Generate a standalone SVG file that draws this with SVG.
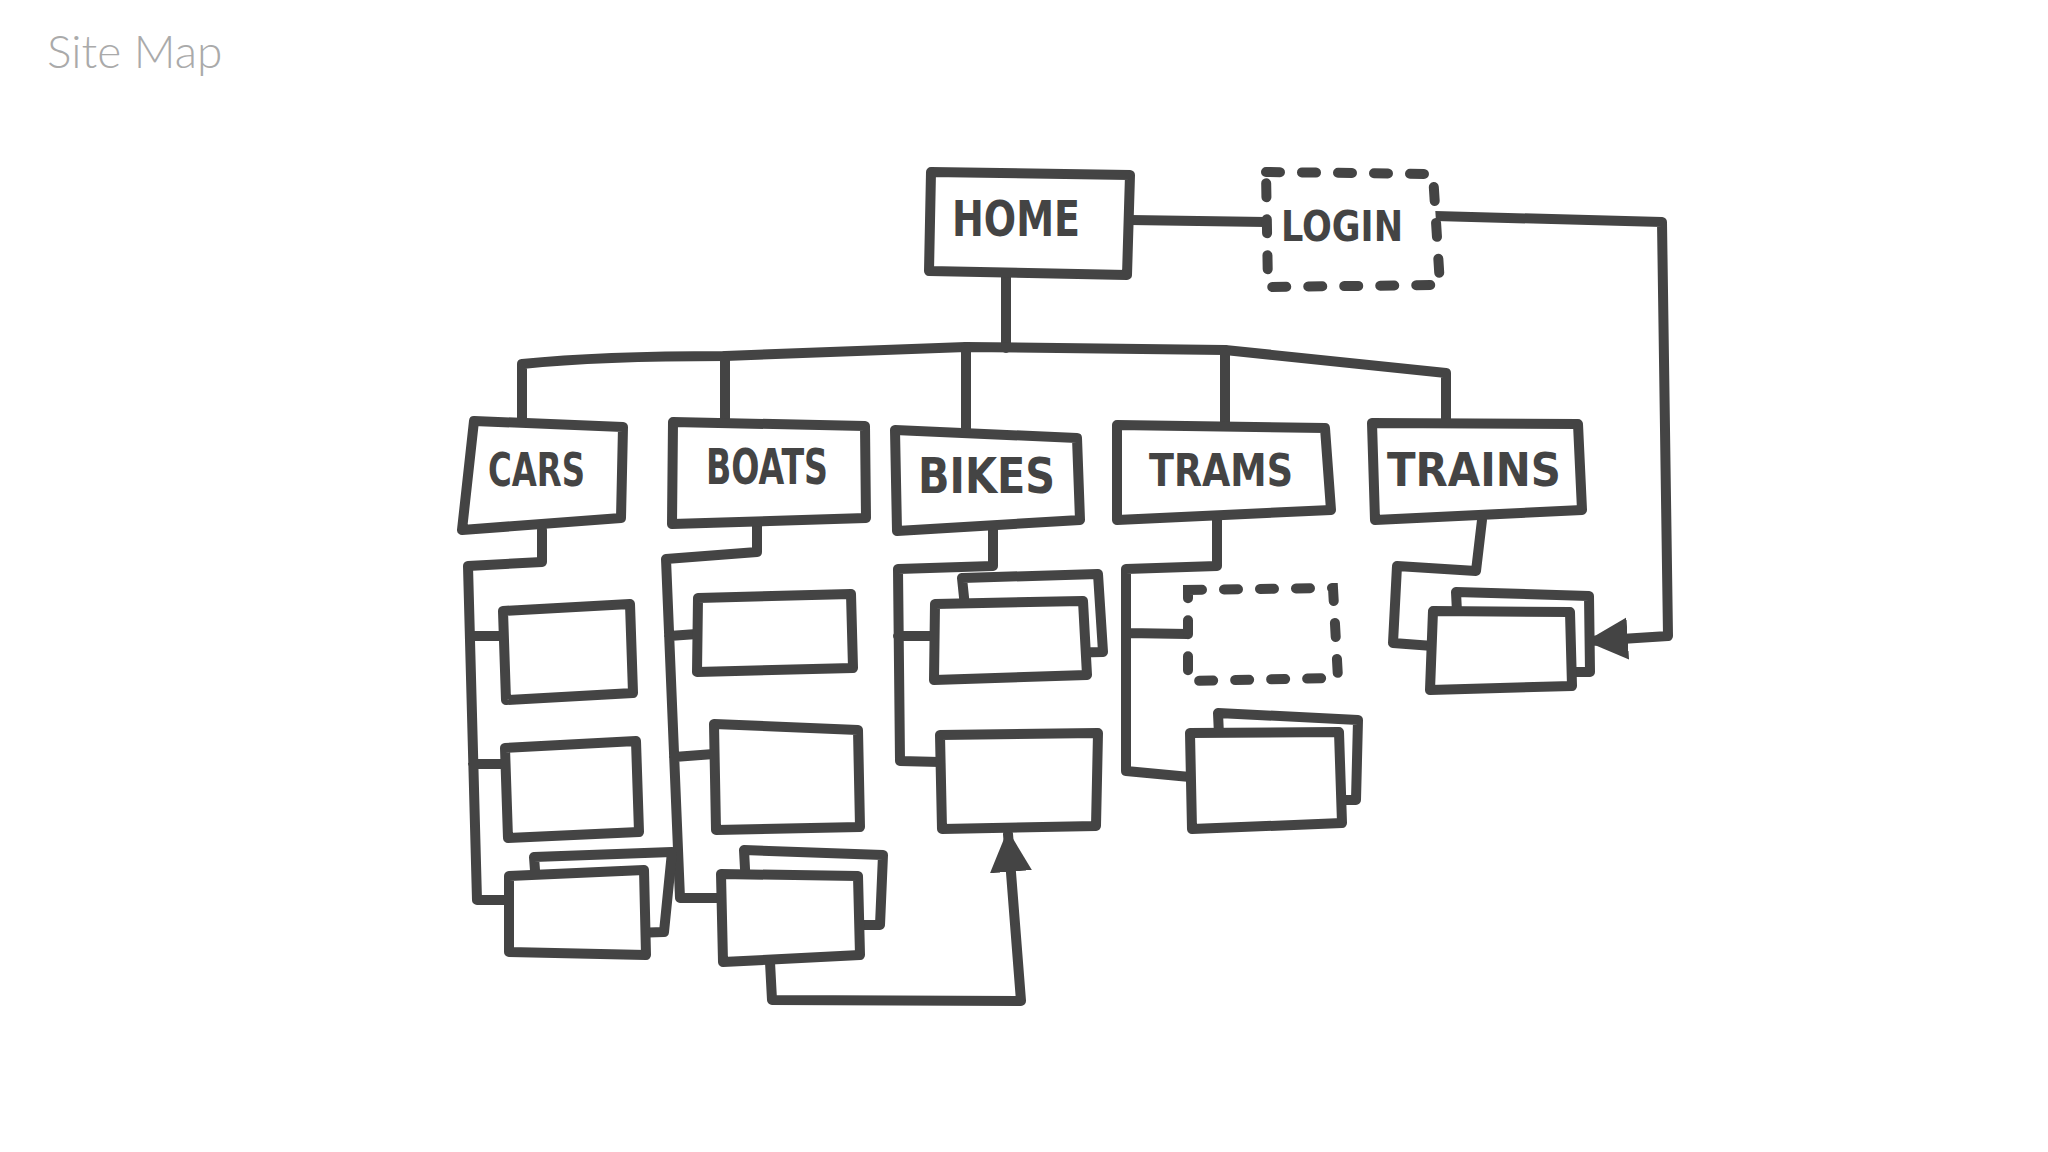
<svg xmlns="http://www.w3.org/2000/svg" width="2048" height="1152" viewBox="0 0 2048 1152">
<style>
.s{fill:none;stroke:#444;stroke-width:10;stroke-linecap:round;stroke-linejoin:round}
.b{fill:#fff;stroke:#444;stroke-width:10;stroke-linecap:round;stroke-linejoin:round}
.d{fill:#fff;stroke:#444;stroke-width:10;stroke-linecap:round;stroke-dasharray:14 22}
.t{font-family:"DejaVu Sans Condensed","DejaVu Sans",sans-serif;font-weight:bold;fill:#444}
.title{font-family:Lato,"Open Sans",sans-serif;font-weight:300;font-size:46px;fill:#aaa}
</style>
<defs>
<marker id="ah" viewBox="0 0 10 10" refX="9" refY="5" markerWidth="42" markerHeight="48" markerUnits="userSpaceOnUse" orient="auto">
<path d="M0,0 L10,5 L0,10 Z" fill="#444"/>
</marker>
</defs>
<rect width="2048" height="1152" fill="#fff"/>
<text class="title" x="47" y="68">Site Map</text>

<g id="connectors">
<path class="s" d="M1130,220 L1266,222"/>
<path class="s" d="M1006,274 L1006,348"/>
<path class="s" d="M522,420 L522,364 Q600,356 725,356 L966,347 L1225,350 L1446,373 L1446,420"/>
<path class="s" d="M725,356 L725,424 M966,347 L966,430 M1225,350 L1225,426"/>
<path class="s" d="M1435,216 L1662,222 L1668,636 L1590,641" marker-end="url(#ah)"/>
<path class="s" d="M542,530 L542,562 L468,566 L477,900 L509,900 M470,636 L503,636 M473,764 L505,764"/>
<path class="s" d="M757,523 L757,552 L666,559 L680,898 L721,898 M669,636 L697,634 M674,757 L714,754"/>
<path class="s" d="M993,530 L993,566 L898,569 L900,761 L940,762 M898,636 L935,636"/>
<path class="s" d="M1217,520 L1217,566 L1126,569 L1126,771 L1190,777 M1126,633 L1188,634"/>
<path class="s" d="M1482,520 L1476,571 L1397,566 L1393,643 L1433,646"/>
<path class="s" d="M770,962 L772,1000 L1021,1001 L1008,834" marker-end="url(#ah)"/>
</g>

<g id="home"><polygon class="b" points="931,172 1130,175 1127,275 929,271"/><text class="t" x="952" y="236" font-size="50" textLength="128" lengthAdjust="spacingAndGlyphs">HOME</text></g>
<g id="login"><polygon class="d" points="1266,172 1433,174 1440,285 1268,287"/><text class="t" x="1281" y="241" font-size="42" textLength="122" lengthAdjust="spacingAndGlyphs">LOGIN</text></g>

<g id="cars"><polygon class="b" points="474,421 623,427 621,518 462,530"/><text class="t" x="488" y="486" font-size="46" textLength="97" lengthAdjust="spacingAndGlyphs">CARS</text></g>
<g id="boats"><polygon class="b" points="673,422 865,426 866,518 672,524"/><text class="t" x="706" y="484" font-size="50" textLength="122" lengthAdjust="spacingAndGlyphs">BOATS</text></g>
<g id="bikes"><polygon class="b" points="895,430 1077,438 1080,520 897,531"/><text class="t" x="918" y="493" font-size="50" textLength="137" lengthAdjust="spacingAndGlyphs">BIKES</text></g>
<g id="trams"><polygon class="b" points="1117,425 1325,428 1331,510 1117,520"/><text class="t" x="1149" y="486" font-size="44" textLength="144" lengthAdjust="spacingAndGlyphs">TRAMS</text></g>
<g id="trains"><polygon class="b" points="1372,423 1578,424 1582,510 1375,520"/><text class="t" x="1387" y="486" font-size="46" textLength="174" lengthAdjust="spacingAndGlyphs">TRAINS</text></g>

<g id="cars-1"><polygon class="b" points="503,611 630,604 633,693 506,700"/></g>
<g id="cars-2"><polygon class="b" points="505,748 636,741 639,832 508,838"/></g>
<g id="cars-3"><polygon class="b" points="534,857 672,852 664,932 540,936"/><polygon class="b" points="509,876 644,870 646,955 509,952"/></g>
<g id="boats-1"><polygon class="b" points="698,598 851,594 853,668 697,672"/></g>
<g id="boats-2"><polygon class="b" points="714,724 858,730 860,827 716,830"/></g>
<g id="boats-3"><polygon class="b" points="744,850 883,855 880,925 748,925"/><polygon class="b" points="721,874 858,876 860,955 723,962"/></g>
<g id="bikes-1"><polygon class="b" points="962,578 1098,574 1103,652 970,655"/><polygon class="b" points="935,604 1083,601 1087,675 934,680"/></g>
<g id="bikes-2"><polygon class="b" points="940,735 1098,733 1096,826 942,829"/></g>
<g id="trams-1"><polygon class="d" points="1188,590 1333,588 1338,678 1188,681"/></g>
<g id="trams-2"><polygon class="b" points="1218,713 1358,720 1356,800 1222,800"/><polygon class="b" points="1190,733 1339,732 1342,823 1192,829"/></g>
<g id="trains-1"><polygon class="b" points="1456,592 1589,596 1590,672 1460,672"/><polygon class="b" points="1433,611 1570,612 1572,686 1430,690"/></g>
</svg>
